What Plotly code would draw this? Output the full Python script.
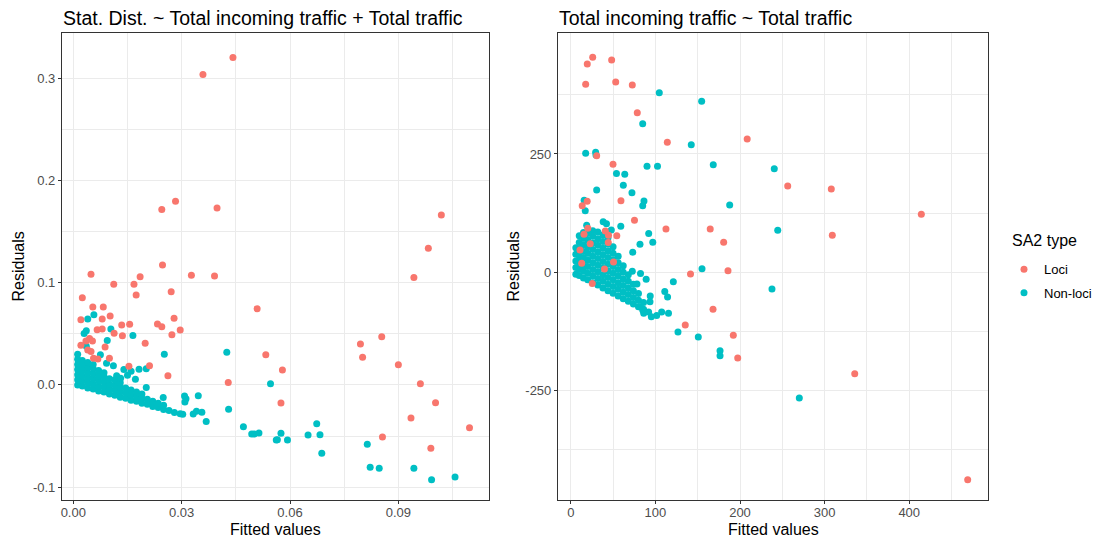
import plotly.graph_objects as go

# ---------------- data ----------------
# Left panel: Stat. Dist. ~ Total incoming traffic + Total traffic
left_loci = [
    (0.0442, 0.3204), (0.0359, 0.3038), (0.0245, 0.1717), (0.0283, 0.1796), (0.0398, 0.1730),
    (0.1019, 0.1662), (0.0983, 0.1336), (0.0943, 0.1052), (0.0247, 0.1173), (0.0049, 0.1082),
    (0.0327, 0.1072), (0.0391, 0.1065), (0.0185, 0.1058), (0.0112, 0.0984), (0.0168, 0.0984),
    (0.0271, 0.0912), (0.0174, 0.0879), (0.0025, 0.0853), (0.0054, 0.0762), (0.0083, 0.0762),
    (0.0509, 0.0745), (0.0021, 0.0638), (0.0080, 0.0644), (0.0102, 0.0674), (0.0279, 0.0651),
    (0.0134, 0.0586), (0.0156, 0.0593), (0.0233, 0.0596), (0.0245, 0.0569), (0.0066, 0.0540),
    (0.0080, 0.0547), (0.0296, 0.0537), (0.0113, 0.0505), (0.0136, 0.0481), (0.0273, 0.0491),
    (0.0045, 0.0454), (0.0035, 0.0429), (0.0053, 0.0429), (0.0199, 0.0407), (0.0021, 0.0388),
    (0.0088, 0.0371), (0.0040, 0.0341), (0.0049, 0.0327), (0.0533, 0.0295), (0.0056, 0.0260),
    (0.0068, 0.0253), (0.0100, 0.0260), (0.0154, 0.0182), (0.0211, 0.0188), (0.0579, 0.0146),
    (0.0262, 0.0090), (0.0429, 0.0023), (0.0575, -0.0177), (0.0795, 0.0400), (0.0801, 0.0270),
    (0.0854, 0.0471), (0.0900, 0.0198), (0.0961, 0.0012), (0.1003, -0.0174), (0.0935, -0.0324),
    (0.1097, -0.0419), (0.0856, -0.0510), (0.0990, -0.0620),
]

left_nonloci_outer = [
    (0.0057, 0.0686), (0.0040, 0.0644), (0.0104, 0.0547), (0.0030, 0.0503), (0.0036, 0.0530),
    (0.0165, 0.0483), (0.0094, 0.0434), (0.0036, 0.0378), (0.0252, 0.0299), (0.0425, 0.0319),
    (0.0075, 0.0295), (0.0111, 0.0188), (0.0092, 0.0212), (0.0182, 0.0154), (0.0202, 0.0157),
    (0.0140, 0.0151), (0.0160, 0.0133), (0.0120, 0.0090), (0.0131, 0.0066), (0.0150, 0.0095),
    (0.0172, 0.0056), (0.0546, 0.0012), (0.0202, -0.0025), (0.0249, -0.0123), (0.0308, -0.0109),
    (0.0346, -0.0106), (0.0312, -0.0136), (0.0309, -0.0167), (0.0332, -0.0285), (0.0341, -0.0257),
    (0.0356, -0.0268), (0.0296, -0.0282), (0.0303, -0.0288), (0.0368, -0.0358), (0.0430, -0.0239),
    (0.0471, -0.0409), (0.0494, -0.0480), (0.0501, -0.0480), (0.0514, -0.0470), (0.0575, -0.0473),
    (0.0562, -0.0539), (0.0565, -0.0536), (0.0593, -0.0539), (0.0650, -0.0490), (0.0674, -0.0380),
    (0.0683, -0.0487), (0.0688, -0.0668), (0.0814, -0.0580), (0.0822, -0.0805), (0.0847, -0.0815),
    (0.0943, -0.0816), (0.0992, -0.0927), (0.1057, -0.0901),
]

left_nonloci_cluster = [
    (0.0012, 0.000), (0.0012, 0.005), (0.0012, 0.010), (0.0012, 0.015), (0.0012, 0.020), (0.0012, 0.025), (0.0012, 0.030),
    (0.0025, -0.001), (0.0025, 0.004), (0.0025, 0.009), (0.0025, 0.014), (0.0025, 0.019), (0.0025, 0.024),
    (0.0040, -0.003), (0.0040, 0.002), (0.0040, 0.007), (0.0040, 0.012), (0.0040, 0.017), (0.0040, 0.022),
    (0.0055, -0.004), (0.0055, 0.001), (0.0055, 0.006), (0.0055, 0.011), (0.0055, 0.016), (0.0055, 0.020),
    (0.0070, -0.006), (0.0070, -0.001), (0.0070, 0.004), (0.0070, 0.009), (0.0070, 0.014),
    (0.0085, -0.007), (0.0085, -0.002), (0.0085, 0.003), (0.0085, 0.008), (0.0085, 0.012),
    (0.0100, -0.009), (0.0100, -0.004), (0.0100, 0.001), (0.0100, 0.006),
    (0.0115, -0.010), (0.0115, -0.005), (0.0115, 0.000), (0.0115, 0.005),
    (0.0130, -0.012), (0.0130, -0.007), (0.0130, -0.002), (0.0130, 0.002),
    (0.0145, -0.013), (0.0145, -0.008), (0.0145, -0.003),
    (0.0160, -0.015), (0.0160, -0.010), (0.0160, -0.005),
    (0.0175, -0.016), (0.0175, -0.011), (0.0175, -0.007),
    (0.0190, -0.018), (0.0190, -0.013), (0.0190, -0.009),
    (0.0205, -0.019), (0.0205, -0.014),
    (0.0220, -0.021), (0.0220, -0.016),
    (0.0235, -0.022), (0.0235, -0.018),
    (0.0250, -0.024), (0.0250, -0.020),
    (0.0265, -0.025), (0.0280, -0.027),
]

# Right panel: Total incoming traffic ~ Total traffic
right_loci = [
    (25.9, 454.2), (19.5, 440.0), (48.3, 448.5), (17.6, 397.1), (53.1, 402.0), (72.7, 395.7),
    (78.6, 337.1), (114.1, 274.6), (208.5, 281.6), (30.6, 246.3), (49.9, 228.3), (59.3, 151.2),
    (13.5, 140.7), (19.4, 150.0), (75.3, 109.8), (112.5, 91.5), (164.8, 91.5), (180.7, 63.4),
    (40.8, 87.2), (54.4, 77.3), (44.6, 78.2), (44.3, 62.9), (15.6, 80.3), (20.1, 92.9),
    (23.0, 60.4), (10.9, 47.1), (12.9, 19.0), (39.8, 7.0), (25.4, -23.7), (50.5, 22.0),
    (141.5, -3.6), (185.8, 3.4), (168.1, -78.2), (135.3, -111.3), (192.1, -133.1), (197.3, -181.0),
    (256.4, 182.3), (307.9, 176.0), (414.3, 122.5), (309.1, 78.2), (335.6, -214.2), (469.1, -438.1),
]

right_nonloci_outer = [
    (104.6, 379.4), (154.7, 361.2), (85.0, 313.9), (142.4, 269.5), (17.6, 251.4), (29.4, 253.5),
    (29.8, 247.8), (90.1, 223.9), (102.5, 223.9), (168.4, 227.3), (54.0, 208.7), (63.8, 207.2),
    (62.1, 184.0), (30.6, 173.9), (72.3, 167.9), (86.5, 150.6), (85.0, 140.7), (15.8, 152.1),
    (17.1, 130.1), (187.8, 142.2), (38.3, 106.9), (42.2, 102.7), (59.1, 97.2), (18.8, 99.5),
    (47.9, 89.4), (92.1, 82.0), (81.8, 59.4), (96.9, 63.4), (73.2, 42.5), (72.7, 2.3),
    (82.4, -2.5), (89.1, -14.8), (121.2, -19.9), (155.1, 7.6), (78.2, -24.7), (111.1, -40.6),
    (114.4, -52.2), (93.9, -50.1), (93.6, -62.3), (115.5, -86.4), (107.4, -83.9), (101.5, -91.3),
    (95.2, -94.0), (86.2, -86.6), (85.0, -79.6), (81.4, -72.7), (126.7, -126.1), (150.7, -136.7),
    (176.4, -165.6), (176.4, -176.2), (240.5, 218.8), (244.6, 88.7), (237.8, -35.3), (270.1, -265.5),
]

right_nonloci_cluster = [
    (6, -4), (6, 10), (6, 24), (6, 38), (6, 52),
    (10, -7), (10, 7), (10, 21), (10, 35), (10, 49), (10, 63), (10, 77),
    (15, -12), (15, 2), (15, 16), (15, 30), (15, 44), (15, 58), (15, 72), (15, 84),
    (20, -16), (20, -2), (20, 12), (20, 26), (20, 40), (20, 54), (20, 68), (20, 82),
    (26, -22), (26, -8), (26, 6), (26, 20), (26, 34), (26, 48), (26, 62), (26, 76), (26, 88),
    (32, -27), (32, -13), (32, 1), (32, 15), (32, 29), (32, 43), (32, 57), (32, 71), (32, 85),
    (38, -33), (38, -19), (38, -5), (38, 9), (38, 23), (38, 37), (38, 51), (38, 65), (38, 79),
    (44, -39), (44, -25), (44, -11), (44, 3), (44, 17), (44, 31), (44, 45), (44, 59), (44, 73),
    (50, -44), (50, -30), (50, -16), (50, -2), (50, 12), (50, 26), (50, 40), (50, 54),
    (56, -50), (56, -36), (56, -22), (56, -8), (56, 6), (56, 20), (56, 34),
    (62, -56), (62, -42), (62, -28), (62, -14), (62, 0), (62, 14),
    (68, -61), (68, -47), (68, -33), (68, -19), (68, -5),
    (74, -67), (74, -53), (74, -39), (74, -25),
    (80, -73), (80, -59), (80, -45),
    (86, -78), (86, -64),
    (92, -84),
]

left_title = "Stat. Dist. ~ Total incoming traffic + Total traffic"
right_title = "Total incoming traffic ~ Total traffic"
x_label = "Fitted values"
y_label = "Residuals"
legend_title = "SA2 type"
group_names = ["Loci", "Non-loci"]

left_xticks = [0.0, 0.03, 0.06, 0.09]
left_xticklabels = ["0.00", "0.03", "0.06", "0.09"]
left_xminor = [0.015, 0.045, 0.075, 0.105]
left_yticks = [-0.1, 0.0, 0.1, 0.2, 0.3]
left_yticklabels = ["-0.1", "0.0", "0.1", "0.2", "0.3"]
left_yminor = [-0.05, 0.05, 0.15, 0.25]
right_xticks = [0, 100, 200, 300, 400]
right_xminor = [50, 150, 250, 350, 450]
right_yticks = [-250, 0, 250]
right_yminor = [-375, -125, 125, 375]

# ---------------- styling ----------------
W, H = 1094, 539
RED = "#F8766D"
TEAL = "#00BFC4"
FONT = "Liberation Sans, Arial, Helvetica, sans-serif"
GRID = "#EBEBEB"

fig = go.Figure()


def add(pairs, color, name, xa, ya, show, leg):
    fig.add_trace(go.Scatter(
        x=[p[0] for p in pairs], y=[p[1] for p in pairs],
        mode="markers", name=name, legend=leg,
        showlegend=show, xaxis=xa, yaxis=ya,
        marker=dict(color=color, size=7, line=dict(width=0)),
        hoverinfo="x+y",
    ))


add(left_nonloci_cluster + left_nonloci_outer, TEAL, group_names[1], "x", "y", True, "legend2")
add(left_loci, RED, group_names[0], "x", "y", True, "legend")
add(right_nonloci_cluster + right_nonloci_outer, TEAL, group_names[1], "x2", "y2", False, "legend2")
add(right_loci, RED, group_names[0], "x2", "y2", False, "legend")

ydom = [1 - 500 / H, 1 - 33 / H]


def axis_style(**kw):
    d = dict(
        showgrid=True, gridcolor=GRID, gridwidth=1.1,
        zeroline=False, showline=True, mirror=True,
        linecolor="#333333", linewidth=1.1,
        ticks="outside", ticklen=3, tickcolor="#333333", tickwidth=1,
        tickfont=dict(family=FONT, size=13, color="#4D4D4D"),
        tickmode="array", automargin=False,
    )
    d.update(kw)
    return d


def minor(vals):
    return dict(tickmode="array", tickvals=vals, showgrid=True, gridcolor=GRID,
                gridwidth=0.55, ticks="")


def legend_box(center_y):
    return dict(
        x=1004 / W, y=1 - (center_y - 14) / H, xanchor="left", yanchor="top",
        font=dict(family=FONT, size=13, color="black"),
        bgcolor="rgba(0,0,0,0)", itemsizing="trace", tracegroupgap=0,
    )


fig.update_layout(
    width=W, height=H,
    paper_bgcolor="white", plot_bgcolor="white",
    margin=dict(l=0, r=0, t=0, b=0, autoexpand=False),
    font=dict(family=FONT, color="black"),
    xaxis=axis_style(domain=[62 / W, 489 / W], range=[-0.00313, 0.1151], anchor="y",
                     tickvals=left_xticks, ticktext=left_xticklabels, minor=minor(left_xminor),
                     ticklabelstandoff=-3),
    yaxis=axis_style(domain=ydom, range=[-0.1126, 0.3443], anchor="x",
                     tickvals=left_yticks, ticktext=left_yticklabels, minor=minor(left_yminor)),
    xaxis2=axis_style(domain=[558 / W, 988 / W], range=[-15.1, 493.1], anchor="y2",
                      tickvals=right_xticks, ticktext=[str(v) for v in right_xticks],
                      minor=minor(right_xminor), ticklabelstandoff=-3),
    yaxis2=axis_style(domain=ydom, range=[-481.0, 505.5], anchor="x2",
                      tickvals=right_yticks, ticktext=[str(v) for v in right_yticks],
                      minor=minor(right_yminor)),
    legend=legend_box(268.3),
    legend2=legend_box(291.7),
    showlegend=True,
)

ann = []
ann.append(dict(text=left_title, x=61 / W, y=1 - 18 / H, xref="paper", yref="paper",
                xanchor="left", yanchor="middle", showarrow=False,
                font=dict(family=FONT, size=19.5, color="black")))
ann.append(dict(text=right_title, x=557 / W, y=1 - 18 / H, xref="paper", yref="paper",
                xanchor="left", yanchor="middle", showarrow=False,
                font=dict(family=FONT, size=19.5, color="black")))
ann.append(dict(text=legend_title, x=1010 / W, y=1 - 240 / H, xref="paper", yref="paper",
                xanchor="left", yanchor="middle", showarrow=False,
                font=dict(family=FONT, size=16, color="black")))
for cx in [(62 + 489) / 2, (558 + 988) / 2]:
    ann.append(dict(text=x_label, x=cx / W, y=1 - 529 / H, xref="paper", yref="paper",
                    xanchor="center", yanchor="middle", showarrow=False,
                    font=dict(family=FONT, size=16, color="black")))
for cx in [18, 513]:
    ann.append(dict(text=y_label, x=cx / W, y=1 - 266.5 / H, xref="paper", yref="paper",
                    xanchor="center", yanchor="middle", showarrow=False, textangle=-90,
                    font=dict(family=FONT, size=16, color="black")))
fig.update_layout(annotations=ann)

fig.write_html("out.html", config={"displayModeBar": False},
               post_script="document.body.style.margin='0px';document.body.style.padding='0px';")
